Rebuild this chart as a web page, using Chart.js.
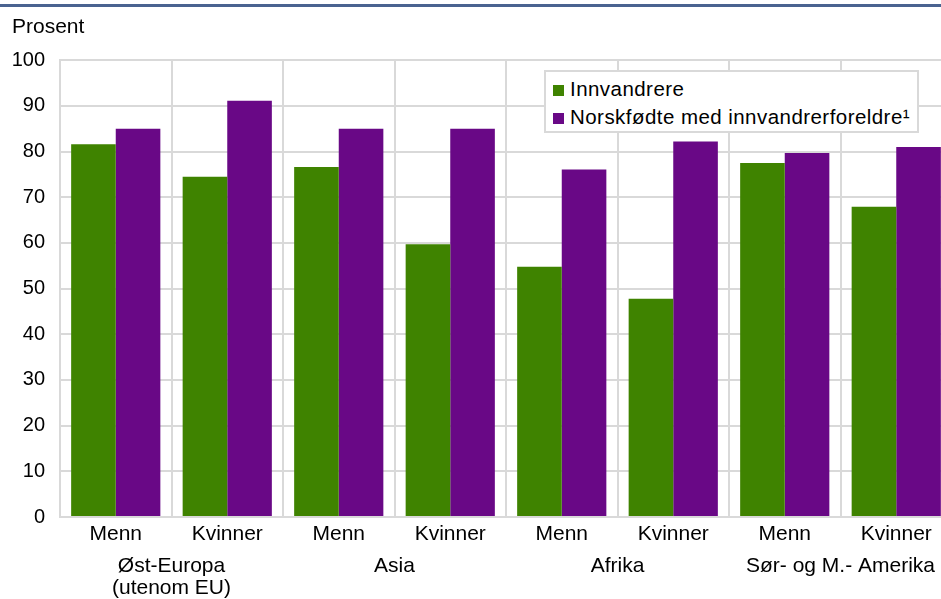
<!DOCTYPE html>
<html>
<head>
<meta charset="utf-8">
<script src="https://cdn.jsdelivr.net/npm/chart.js@4/dist/chart.umd.min.js"></script>
<style>
  body { margin: 0; background: #fff; overflow: hidden; }
  #wrap { position: relative; width: 941px; height: 599px; overflow: hidden; }
  #topline { position: absolute; left: 0; top: 4px; width: 941px; height: 3px; background: #4a6390; }
  #chartBox { position: absolute; left: 0; top: 0; width: 952px; height: 599px; }
  #legend {
    position: absolute; left: 544px; top: 70px; width: 371px; height: 59px;
    border: 2px solid #d9d9d9; background: #fff;
    font-family: "Liberation Sans", Arial, sans-serif; font-size: 20.5px; color: #000;
    letter-spacing: 0.45px;
  }
  #legend .item { position: absolute; left: 7px; white-space: nowrap; line-height: 24px; }
  #legend .box { display: inline-block; width: 11px; height: 11px; margin-right: 6px; vertical-align: 0px; }
</style>
</head>
<body>
<div id="wrap">
  <div id="chartBox"><canvas id="barChart"></canvas></div>
  <div id="topline"></div>
  <div id="legend"></div>
</div>
<script>
// Data
const genders = ['Menn', 'Kvinner', 'Menn', 'Kvinner', 'Menn', 'Kvinner', 'Menn', 'Kvinner'];
const regions = [['Øst-Europa', '(utenom EU)'], 'Asia', 'Afrika', 'Sør- og M.- Amerika'];
const innvandrere = [81.6, 74.5, 76.6, 59.7, 54.8, 47.8, 77.5, 67.9];
const norskfodte = [85.0, 91.1, 85.0, 85.0, 76.1, 82.2, 79.7, 81.0];
const yTicks = [0, 10, 20, 30, 40, 50, 60, 70, 80, 90, 100];

const family = '"Liberation Sans", Arial, sans-serif';
const font = { family: family, size: 21 };
const gridColor = '#d9d9d9';

const barCtx = document.getElementById('barChart').getContext('2d');
const barChart = new Chart(barCtx, {
    type: 'bar',
    data: {
        labels: genders,
        datasets: [
            {
                label: 'Innvandrere',
                data: innvandrere,
                backgroundColor: '#3f8300'
            },
            {
                label: 'Norskfødte med innvandrerforeldre¹',
                data: norskfodte,
                backgroundColor: '#690886'
            }
        ]
    },
    options: {
        responsive: true,
        maintainAspectRatio: false,
        animation: false,
        datasets: {
            bar: { barPercentage: 1, categoryPercentage: 0.8 }
        },
        layout: {
            padding: { left: 12, top: 15, right: 0, bottom: 0 }
        },
        plugins: {
            legend: { display: false },
            tooltip: { enabled: false },
            title: {
                display: true,
                text: 'Prosent',
                align: 'start',
                color: '#000',
                font: { ...font, weight: 'normal' },
                padding: { top: 0, bottom: 20 }
            }
        },
        scales: {
            x: {
                offset: true,
                afterFit: (scale) => { scale.height = 30; },
                grid: { color: gridColor, lineWidth: 2, offset: true, drawTicks: false },
                border: { color: gridColor, width: 2 },
                ticks: { color: '#000', font: font, padding: 5, maxRotation: 0, autoSkip: false }
            },
            x2: {
                type: 'category',
                position: 'bottom',
                labels: regions,
                offset: true,
                afterFit: (scale) => { scale.height = 52; },
                grid: { display: false, drawTicks: false },
                border: { display: false },
                ticks: { color: '#000', font: { ...font, lineHeight: '22px' }, padding: 8, maxRotation: 0, autoSkip: false }
            },
            y: {
                min: 0,
                max: 100,
                afterBuildTicks: (scale) => { scale.ticks = yTicks.map(v => ({ value: v })); },
                afterFit: (scale) => { scale.width = 48; },
                grid: { color: gridColor, lineWidth: 2, drawTicks: false },
                border: { color: gridColor, width: 2 },
                ticks: { color: '#000', font: { family: family, size: 20 }, padding: 15 }
            }
        }
    }
});

// Legend box inside the plot, built from the datasets
const legendEl = document.getElementById('legend');
barChart.data.datasets.forEach((ds, i) => {
    const item = document.createElement('div');
    item.className = 'item';
    item.style.top = (5 + i * 28) + 'px';
    item.innerHTML = '<span class="box" style="background:' + ds.backgroundColor + '"></span>' + ds.label;
    legendEl.appendChild(item);
});
</script>
</body>
</html>
